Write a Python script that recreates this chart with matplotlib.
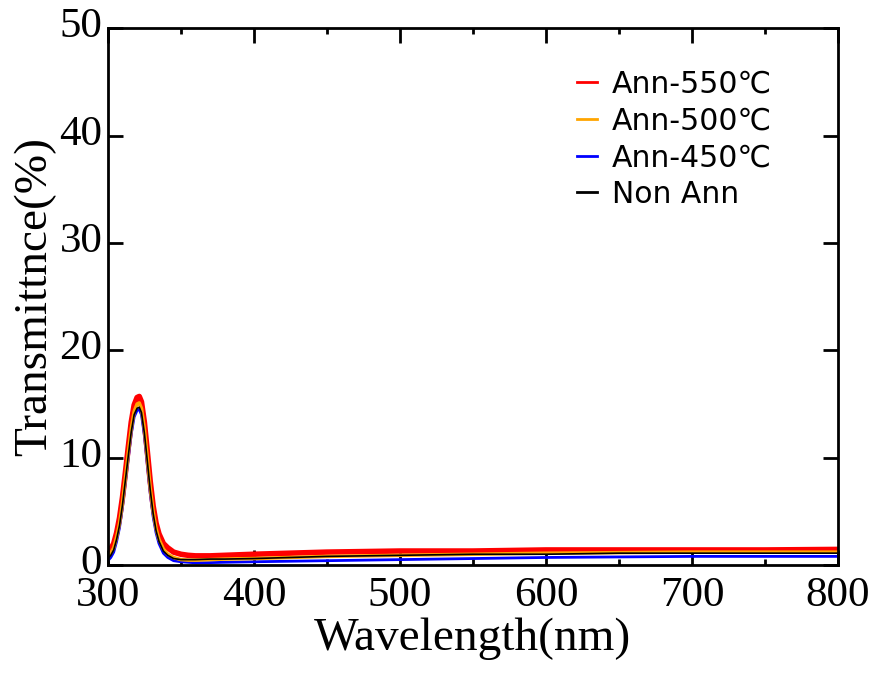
import numpy as np
import matplotlib
matplotlib.use("Agg")
import matplotlib.pyplot as plt
from matplotlib import ticker
from matplotlib import transforms

# wavelength grid (nm) and transmittance (%)
wl = [300, 302, 304, 306, 308, 310, 312, 314, 316, 318, 320, 321.5, 323, 325,
      327, 329, 331, 333, 335, 338, 341, 345, 350, 355, 360, 370, 380, 400,
      425, 450, 475, 500, 550, 600, 650, 700, 750, 800]
t550 = [1.2, 1.5, 2.0, 3.0, 4.4, 6.3, 8.6, 11.0, 13.3, 14.9, 15.6, 15.7, 15.2, 13.3,
        10.6, 7.8, 5.5, 3.9, 2.9, 2.0, 1.6, 1.2, 1.0, 0.9, 0.85, 0.85, 0.9, 1.0,
        1.1, 1.2, 1.25, 1.3, 1.3, 1.4, 1.4, 1.4, 1.4, 1.45]
t500 = [0.8, 1.1, 1.6, 2.6, 3.9, 5.8, 8.1, 10.5, 12.7, 14.3, 15.0, 15.1, 14.6, 12.7,
        10.0, 7.2, 5.0, 3.4, 2.4, 1.5, 1.0, 0.7, 0.5, 0.45, 0.45, 0.5, 0.55, 0.6,
        0.7, 0.8, 0.85, 0.9, 1.0, 1.1, 1.15, 1.2, 1.2, 1.2]
t450 = [0.4, 0.7, 1.2, 2.2, 3.5, 5.4, 7.7, 10.0, 12.2, 13.8, 14.4, 14.5, 14.0, 12.1,
        9.4, 6.7, 4.5, 3.0, 2.0, 1.1, 0.7, 0.4, 0.3, 0.25, 0.2, 0.22, 0.25, 0.3,
        0.35, 0.4, 0.45, 0.5, 0.6, 0.7, 0.75, 0.8, 0.8, 0.8]
t_non = [0.6, 0.9, 1.4, 2.4, 3.7, 5.6, 7.9, 10.2, 12.4, 14.0, 14.6, 14.7, 14.2, 12.3,
         9.7, 7.0, 4.8, 3.2, 2.2, 1.3, 0.9, 0.6, 0.5, 0.5, 0.5, 0.55, 0.55, 0.6,
         0.7, 0.8, 0.85, 0.9, 1.0, 1.0, 1.1, 1.1, 1.1, 1.1]

fig = plt.figure(figsize=(8.77, 6.73), dpi=100)
ax = fig.add_axes([0.123, 0.1605, 0.8325, 0.7975])

l1, = ax.plot(wl, t550, color="red", lw=4, label="Ann-550℃")
l3, = ax.plot(wl, t450, color="blue", lw=2, label="Ann-450℃")
l2, = ax.plot(wl, t500, color="orange", lw=2.5, label="Ann-500℃")
l4, = ax.plot(wl, t_non, color="black", lw=1.2, label="Non Ann")

ax.set_xlim(300, 800)
ax.set_ylim(0, 50)
ax.xaxis.set_major_locator(ticker.MultipleLocator(100))
ax.xaxis.set_minor_locator(ticker.MultipleLocator(50))
ax.yaxis.set_major_locator(ticker.MultipleLocator(10))

serif = "Liberation Serif"
ax.tick_params(which="both", direction="in", top=True, right=True, width=2)
ax.tick_params(which="major", length=11)
ax.tick_params(which="minor", length=4.5)
ax.tick_params(axis="x", which="major", pad=8)
ax.tick_params(axis="y", which="major", pad=4)
for lab in ax.get_xticklabels() + ax.get_yticklabels():
    lab.set_fontfamily(serif)
    lab.set_fontsize(31)
# y tick labels sit a little above their ticks in the original
lift = transforms.ScaledTranslation(0, 4 / 72, fig.dpi_scale_trans)
for lab in ax.get_yticklabels():
    lab.set_transform(lab.get_transform() + lift)
for s in ax.spines.values():
    s.set_linewidth(2)

ax.set_xlabel("Wavelength(nm)", fontsize=34, family=serif, labelpad=2)
ax.set_ylabel("Transmittnce(%)", fontsize=34, family=serif, labelpad=2)

leg = ax.legend(handles=[l1, l2, l3, l4], loc="upper left", frameon=False,
                prop={"family": "DejaVu Sans", "size": 21.5},
                handlelength=0.67, handletextpad=0.5, labelspacing=0.26,
                borderpad=0, borderaxespad=0,
                bbox_to_anchor=(0.6425, 0.923))
for h in leg.get_lines():
    h.set_linewidth(2)

fig.savefig("out.png", dpi=100)
